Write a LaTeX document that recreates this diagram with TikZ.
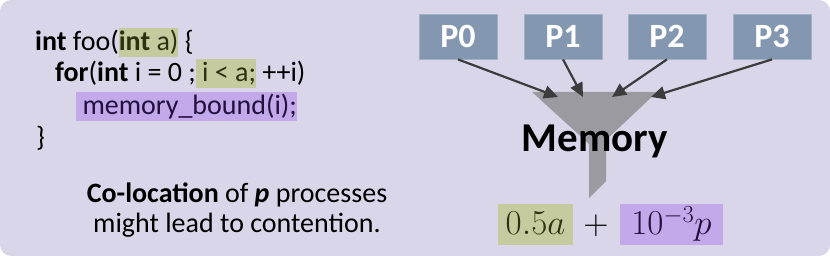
\RequirePackage{fix-cm}
\documentclass[tikz,border=0pt]{standalone}
\usepackage[no-math]{fontspec}
\setmainfont{Carlito}
\usetikzlibrary{arrows.meta}
\definecolor{bgc}{HTML}{D9D6EA}
\definecolor{hlg}{HTML}{C5CB9F}
\definecolor{hlgtext}{HTML}{2C3210}
\definecolor{hlp}{HTML}{C3A8EA}
\definecolor{hlptext}{HTML}{22103E}
\definecolor{pfill}{HTML}{8497B0}
\definecolor{pline}{HTML}{A3B1C6}
\definecolor{funnelc}{HTML}{9B9AA1}
\definecolor{arrc}{HTML}{3C3C3C}
\newcommand\hlgbox[1]{{\setlength{\fboxsep}{0pt}\colorbox{hlg}{\rule[-6pt]{0pt}{29pt}\color{hlgtext}#1}}}
\newcommand\hlpbox[1]{{\setlength{\fboxsep}{0pt}\colorbox{hlp}{\rule[-6pt]{0pt}{29pt}\color{hlptext}#1}}}
\tikzset{
  codetext/.style={anchor=base west, inner sep=0pt, font=\fontsize{28}{32}\selectfont},
  notetext/.style={anchor=base, inner sep=0pt, font=\fontsize{28}{32}\selectfont},
  procbox/.style={fill=pfill, draw=pline, line width=0.8pt, minimum width=78, minimum height=45,
    inner sep=0pt, text=white, font=\bfseries\fontsize{34}{38}\selectfont},
  mathbox/.style={anchor=base, inner xsep=0pt, inner ysep=0pt, text height=31pt, text depth=10pt,
    font=\fontsize{35}{42}\selectfont},
  arr/.style={draw=arrc, line width=2.2pt, -{Triangle[length=14pt,width=13pt]}, shorten >=0pt}
}
\begin{document}
\begin{tikzpicture}[x=1pt,y=-1pt]
\useasboundingbox (0,0) rectangle (830,256);
\fill[bgc, rounded corners=11pt] (0,0) rectangle (830,256);

% code
\node[codetext] (l1) at (35,51) {\textbf{int} foo(\hlgbox{\textbf{int} a)}\ \{};
\node[codetext] (l2) at (55,82) {\textbf{for}(\textbf{int} i = 0 ;\hlgbox{\ i < a;}\ ++i)};
\node[codetext] (l3) at (76,115) {\hlpbox{\ memory\_bound(i);}};
\node[codetext] (l4) at (36,147) {\}};

% note
\node[notetext] (n1) at (237,203) {\textbf{Co-location} of \textbf{\textit{p}} processes};
\node[notetext] (n2) at (237,233) {might lead to contention.};

% funnel
\fill[funnelc] (532,92) -- (657,92) -- (606,140) -- (606,181) -- (589,198) -- (589,144) -- cycle;
\node[anchor=base, inner sep=0pt, font=\bfseries\fontsize{41}{48}\selectfont] (mem) at (595,152) {Memory};

% processes
\node[procbox] (p0) at (458,36.5) {P0};
\node[procbox] (p1) at (563,36.5) {P1};
\node[procbox] (p2) at (667,36.5) {P2};
\node[procbox] (p3) at (772,36.5) {P3};

\coordinate (t0) at (558,97);
\coordinate (t1) at (583,97);
\coordinate (t2) at (612,97);
\coordinate (t3) at (651,97);
\draw[arr] (p0.south) -- (t0);
\draw[arr] (p1.south) -- (t1);
\draw[arr] (p2.south) -- (t2);
\draw[arr] (p3.south) -- (t3);

% formula
\node[mathbox, fill=hlg, text=hlgtext, minimum width=75] (f1) at (535.5,235) {$0.5a$};
\node[mathbox, fill=none] (plus) at (596,235) {$+$};
\node[mathbox, fill=hlp, text=hlptext, minimum width=103] (f2) at (671.5,235) {$10^{-3}p$};
\end{tikzpicture}
\end{document}
